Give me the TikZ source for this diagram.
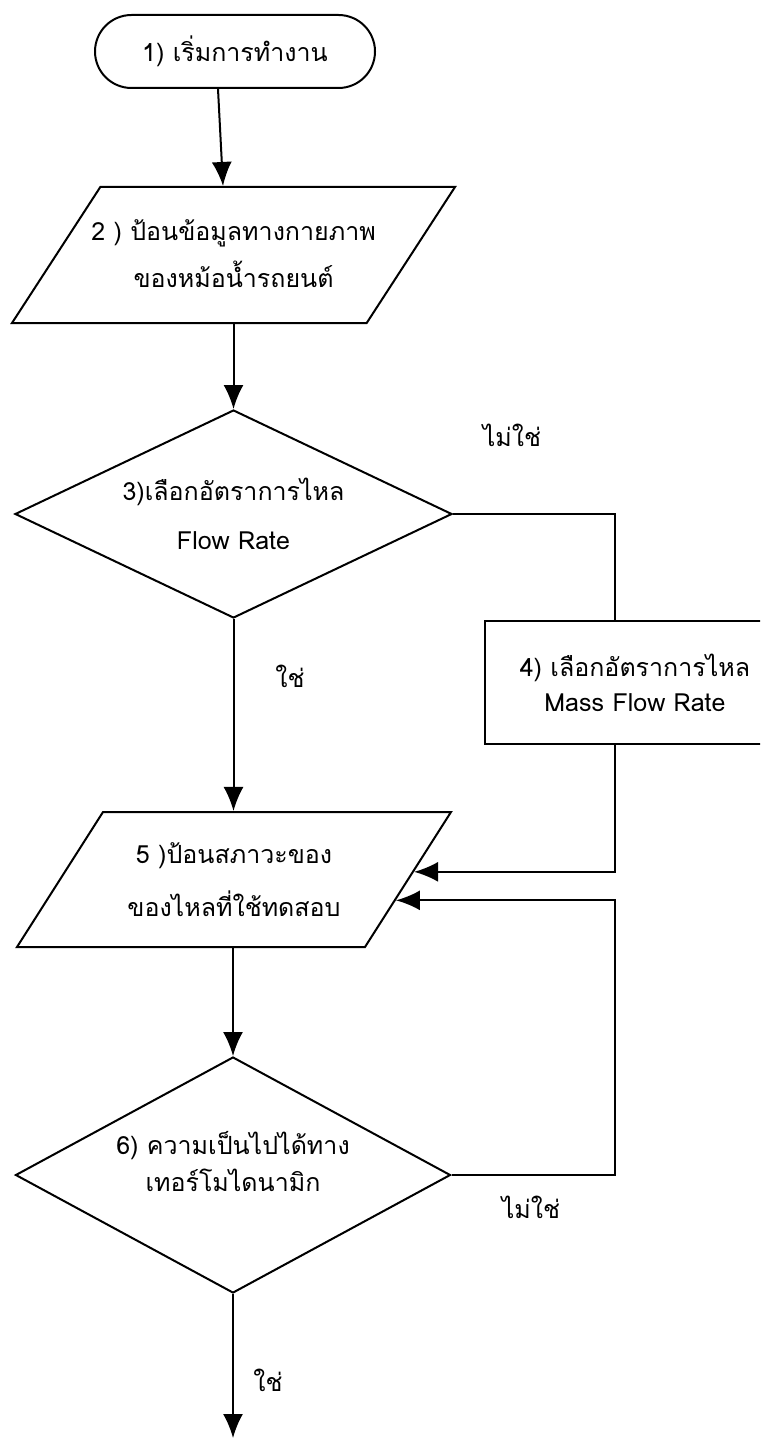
\documentclass[tikz,border=0pt]{standalone}
\usepackage{fontspec}
\setmainfont[Script=Thai]{Loma}
\usetikzlibrary{shapes,arrows.meta,calc}
\tikzstyle{startstop}=[rectangle,
	rounded corners=18.25pt,
	draw,
	line width=1pt,
	minimum width=140pt,
	minimum height=36.5pt]
\tikzstyle{io}=[trapezium,
	trapezium stretches body,
	trapezium left angle=57,
	trapezium right angle=123,
	inner xsep=-10pt,
	inner ysep=0pt,
	draw,
	line width=1pt,
	align=center]
\tikzstyle{decision}=[diamond,
	aspect=2.1,
	draw,
	line width=1pt,
	align=center,
	minimum width=218.5pt,
	minimum height=104pt]
\tikzstyle{process}=[rectangle,
	draw,
	line width=1pt,
	align=center,
	minimum width=150pt,
	minimum height=61.5pt]
\tikzstyle{conn}=[line width=1pt]
\tikzstyle{flow}=[line width=1pt, -{Latex[length=12pt,width=10pt]}]

\begin{document}
\begin{tikzpicture}[x=0.5pt, y=-0.5pt, every node/.style={font=\fontsize{12.5}{23.5}\selectfont}]
					\useasboundingbox (0,0) rectangle (760,1439);
					\clip (0,0) rectangle (760,1439);
					\node (start) [startstop] at (235,51.5) {1) เริ่มการทำงาน};
					\node (input) [io, text height=50pt, text depth=18pt, minimum width=221.5pt, below of=start, node distance=101.75pt, xshift=-0.75pt] {2 ) ป้อนข้อมูลทางกายภาพ\\ของหม้อน้ำรถยนต์};
					\draw[flow] ([xshift=-8.5pt]start.south) -- ([xshift=-5.25pt]input.north);
					\node (flowrate) [decision, font=\fontsize{12.5}{24.5}\selectfont, below of=input, node distance=129.5pt] {3)เลือกอัตราการไหล\\Flow Rate};
					\draw[flow] (flowrate.north |- input.south) -- (flowrate.north);
					\node (massflow) [process, font=\fontsize{12.5}{17.5}\selectfont, right of=flowrate, node distance=200.75pt, yshift=-84.25pt] {4) เลือกอัตราการไหล\\Mass Flow Rate};
					\draw[conn] (flowrate.east) -| ([xshift=-10pt]massflow.north);

					\node (fluid) [io, font=\fontsize{12.5}{26.5}\selectfont, trapezium left angle=57.5, trapezium right angle=122.5, text height=52pt, text depth=15.5pt, minimum width=217pt, below of=flowrate, node distance=182.75pt, xshift=0.25pt] {5 )ป้อนสภาวะของ\\ของไหลที่ใช้ทดสอบ};
					\draw[flow] (flowrate.south) -- (flowrate.south |- fluid.north);
					\coordinate (m) at ([xshift=-10pt]massflow.south);
					\coordinate (p1) at ($(fluid.top right corner)!0.444!(fluid.bottom right corner)$);
					\coordinate (p2) at ($(fluid.top right corner)!0.652!(fluid.bottom right corner)$);
					\draw[flow] (m) |- (p1);
					\node (thermo) [decision, aspect=1.85, font=\fontsize{12.5}{18.5}\selectfont, text depth=14pt, minimum width=217.5pt, minimum height=118pt, below of=fluid, node distance=147.75pt, xshift=-0.5pt] {6) ความเป็นไปได้ทาง\\เทอร์โมไดนามิก};
					\draw[flow] (thermo.north |- fluid.south) -- (thermo.north);
					\draw[flow] (thermo.east) -| (m |- p2) -- (p2);
					\coordinate[below of=thermo, node distance=131.5pt] (stop);
					\draw[flow] (thermo.south) -- (stop);

					\node (no1) [right of=flowrate, node distance=139.25pt, yshift=39.5pt] {ไม่ใช่};
					\node (yes1) [below of=flowrate, node distance=81pt, xshift=28.25pt] {ใช่};
					\node (no2) [right of=thermo, node distance=149pt, yshift=-16pt] {ไม่ใช่};
					\node (yes2) [below of=thermo, node distance=102.5pt, xshift=17.5pt] {ใช่};
				\end{tikzpicture}
\end{document}
